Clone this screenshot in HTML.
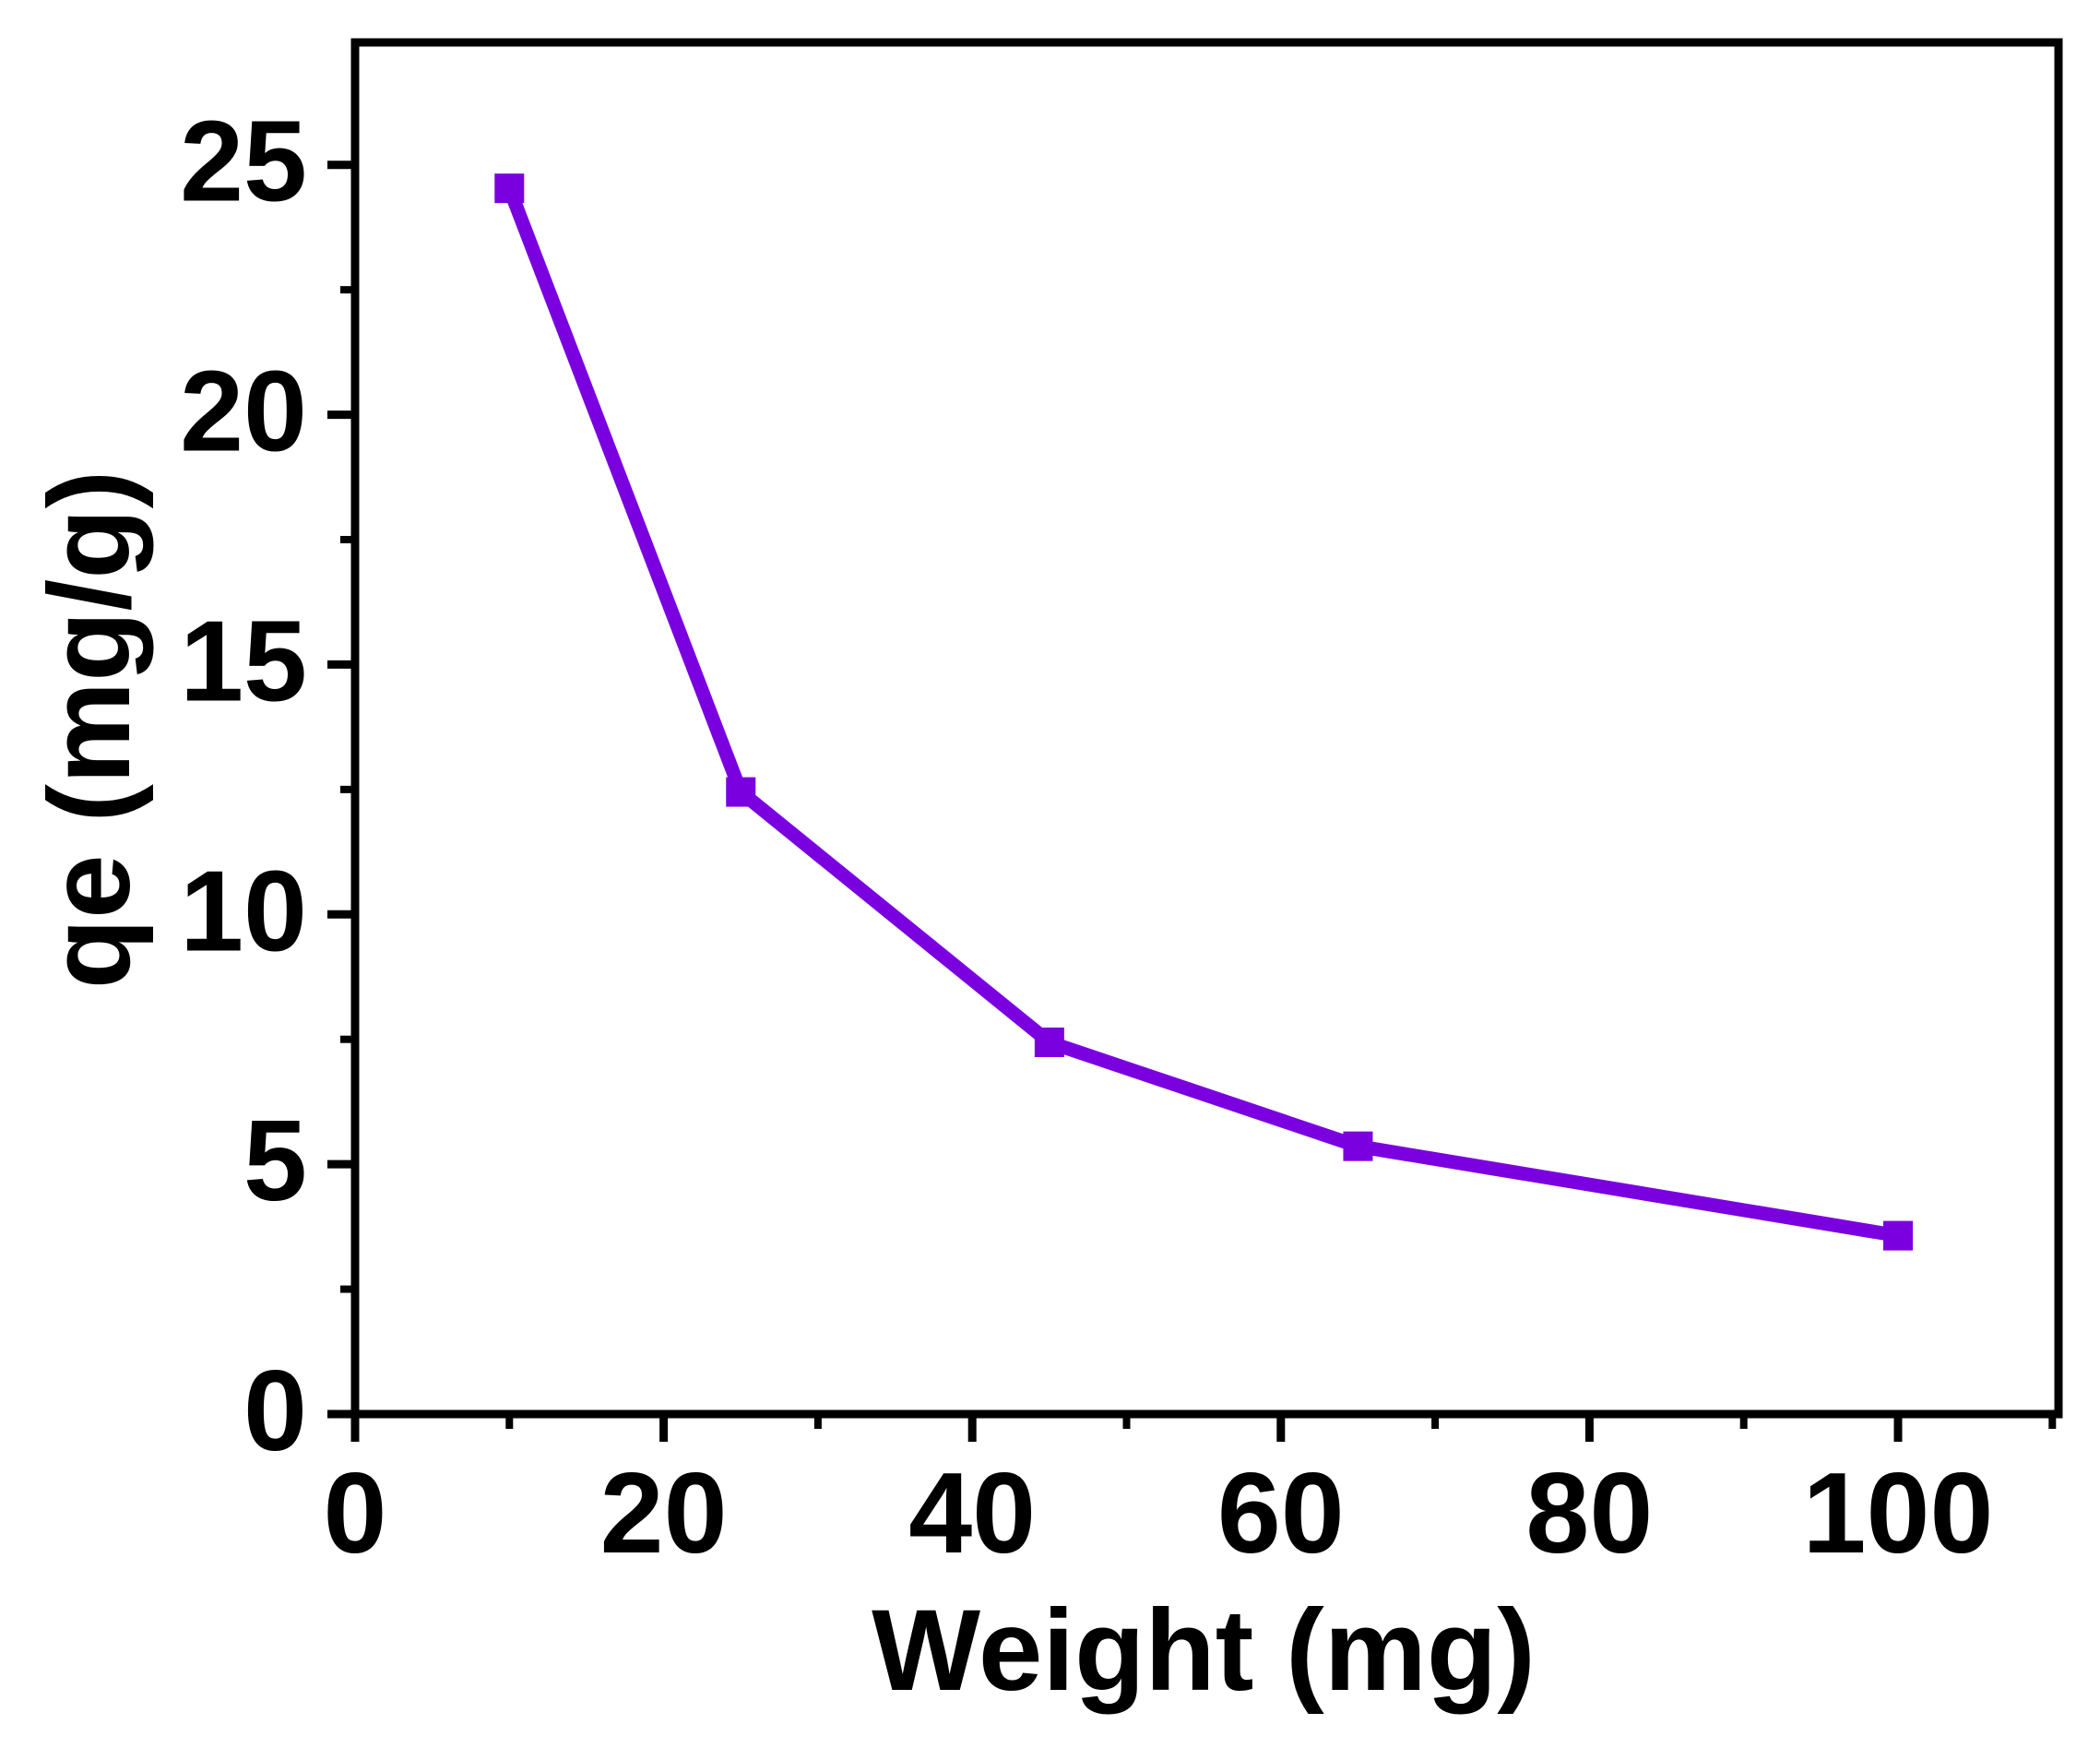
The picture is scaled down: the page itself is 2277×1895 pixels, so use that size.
<!DOCTYPE html>
<html><head><meta charset="utf-8"><style>
html,body{margin:0;padding:0;background:#fff;}
svg{display:block;}
text{font-family:"Liberation Sans",Arial,sans-serif;font-weight:bold;fill:#000;}
</style></head>
<body>
<svg id="chart" width="2277" height="1895" viewBox="0 0 2277 1895" xmlns="http://www.w3.org/2000/svg">
<g id="axes"></g>
<g id="series"></g>
</svg>
<script>
const weights = [10, 25, 45, 65, 100];
const qeValues = [24.53, 12.45, 7.44, 5.36, 3.57];
const xTickLabels = ["0", "20", "40", "60", "80", "100"];
const xTickValues = [0, 20, 40, 60, 80, 100];
const yTickLabels = ["0", "5", "10", "15", "20", "25"];
const yTickValues = [0, 5, 10, 15, 20, 25];

const NS = "http://www.w3.org/2000/svg";
const L = 385, R = 2232, T = 46, B = 1533;
const xMin = 0, xMax = 110.4, yMin = 0, yMax = 27.45;
function xs(v){ return L + (v - xMin) / (xMax - xMin) * (R - L); }
function ys(v){ return B - (v - yMin) / (yMax - yMin) * (B - T); }
function mk(tag, attrs, parent){
  const e = document.createElementNS(NS, tag);
  for (const k in attrs) e.setAttribute(k, attrs[k]);
  parent.appendChild(e);
  return e;
}
const axes = document.getElementById('axes');
const series = document.getElementById('series');

let f = mk('rect', {x:L, y:T, width:R-L, height:B-T, fill:'none', stroke:'#000', 'stroke-width':9}, axes);



yTickValues.forEach((v, i) => {
  const y = ys(v);
  const t = mk('line', {x1:L-30, x2:L, y1:y, y2:y, stroke:'#000', 'stroke-width':9}, axes);
  
  
  const lb = mk('text', {x:L-52, y:y+39, 'font-size':124, 'text-anchor':'end'}, axes);
  lb.textContent = yTickLabels[i];
  
  
});
for (let v = 2.5; v < yMax; v += 5) {
  const y = ys(v);
  const t = mk('line', {x1:L-16, x2:L, y1:y, y2:y, stroke:'#000', 'stroke-width':8}, axes);
  
  
}
xTickValues.forEach((v, i) => {
  const x = xs(v);
  const t = mk('line', {x1:x, x2:x, y1:B, y2:B+30, stroke:'#000', 'stroke-width':9}, axes);
  
  
  const lb = mk('text', {x:x, y:1683, 'font-size':124, 'text-anchor':'middle'}, axes);
  lb.textContent = xTickLabels[i];
  
  
});
for (let v = 10; v <= 110; v += 20) {
  const x = xs(v);
  const t = mk('line', {x1:x, x2:x, y1:B, y2:B+16, stroke:'#000', 'stroke-width':8}, axes);
  
  
}
const xt = mk('text', {x:1305, y:1832, 'font-size':125, 'text-anchor':'middle'}, axes);
xt.textContent = 'Weight (mg)';


const yt = mk('text', {x:0, y:0, 'font-size':125, 'text-anchor':'middle', transform:'translate(140,791) rotate(-90)'}, axes);
yt.textContent = 'qe (mg/g)';



const pts = weights.map((w, i) => xs(w) + ',' + ys(qeValues[i])).join(' ');
const pl = mk('polyline', {points:pts, fill:'none', stroke:'#7B00E0', 'stroke-width':15, 'stroke-linejoin':'miter'}, series);


weights.forEach((w, i) => {
  const m = mk('rect', {x:xs(w)-16, y:ys(qeValues[i])-16, width:32, height:32, fill:'#7B00E0'}, series);
  
  
});
</script>
</body></html>
